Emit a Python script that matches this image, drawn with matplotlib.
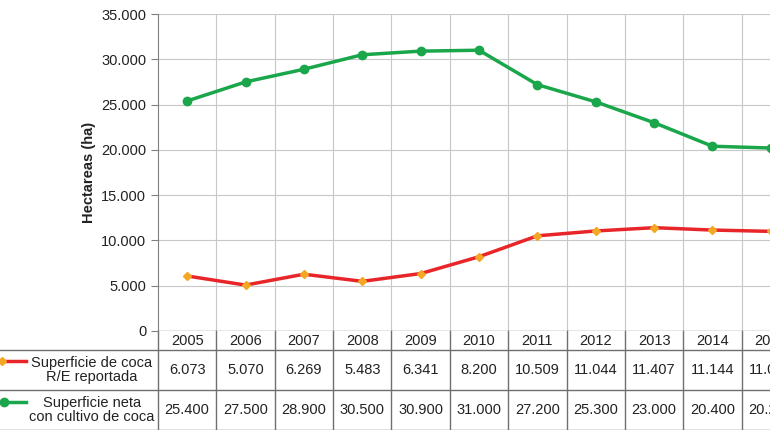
import matplotlib
matplotlib.use("Agg")
import matplotlib.pyplot as plt
from matplotlib.lines import Line2D

plt.rcParams['font.family'] = ['Liberation Sans', 'DejaVu Sans']

years = ["2005","2006","2007","2008","2009","2010","2011","2012","2013","2014","2015"]
coca_re = [6073, 5070, 6269, 5483, 6341, 8200, 10509, 11044, 11407, 11144, 11000]
coca_neta = [25400, 27500, 28900, 30500, 30900, 31000, 27200, 25300, 23000, 20400, 20200]
yticks = [0, 5000, 10000, 15000, 20000, 25000, 30000, 35000]
ytick_labels = ["0", "5.000", "10.000", "15.000", "20.000", "25.000", "30.000", "35.000"]
row_labels = ["Superficie de coca\nR/E reportada", "Superficie neta\ncon cultivo de coca"]

def fmt(v):
    return f"{v:,}".replace(",", ".")

W, H = 770, 430
fs = 10.5
tc = "#222222"
fig = plt.figure(figsize=(W/100, H/100), dpi=100)
left, right, top, bottom = 158, 800, 14, 331
ax = fig.add_axes([left/W, (H-bottom)/H, (right-left)/W, (bottom-top)/H])
x = list(range(len(years)))
ax.plot(x, coca_neta, color="#1aa64a", lw=2.5, marker="o", ms=6, zorder=3)
ax.plot(x, coca_re, color="#e8262a", lw=2.5, marker="D", ms=4.5, mfc="#f5a623", mec="#f5a623", zorder=3)
ax.set_xlim(-0.5, len(years)-0.5)
ax.set_ylim(0, 35000)
ax.set_yticks(yticks)
ax.set_yticklabels(ytick_labels, fontsize=fs, color=tc)
ax.set_xticks([])
ax.set_ylabel("Hectareas (ha)", fontsize=fs, fontweight="bold", color=tc)
for s in ["top", "right", "bottom"]:
    ax.spines[s].set_visible(False)
ax.spines["left"].set_color("#808080")
ax.tick_params(axis="y", color="#808080", length=5)
for yv in yticks[1:]:
    ax.axhline(yv, color="#c8c8c8", lw=0.8, zorder=0)
for i in range(len(years)):
    ax.axvline(i+0.5, color="#c8c8c8", lw=0.8, zorder=0)
ax.axhline(0, color="#808080", lw=1)

ph = bottom - top
def fy(ypx):
    return (bottom - ypx) / ph
tr = ax.get_xaxis_transform()
rows = [331, 350, 390, 430]
lc = "#707070"
for ry in rows[1:]:
    ax.add_line(Line2D([-0.5 - left/(58.36), len(years)-0.5], [fy(ry), fy(ry)], transform=tr, color=lc, lw=1, clip_on=False))
for i in range(len(years)+1):
    ax.add_line(Line2D([i-0.5, i-0.5], [fy(331), fy(430)], transform=tr, color=lc, lw=1, clip_on=False))
for i, yr in enumerate(years):
    ax.text(i, fy(341), yr, transform=tr, ha="center", va="center", fontsize=fs, color=tc, clip_on=False)
    ax.text(i, fy(370), fmt(coca_re[i]), transform=tr, ha="center", va="center", fontsize=fs, color=tc, clip_on=False)
    ax.text(i, fy(410), fmt(coca_neta[i]), transform=tr, ha="center", va="center", fontsize=fs, color=tc, clip_on=False)
fig.text(92/W, (H-370)/H, row_labels[0], ha="center", va="center", fontsize=fs, color=tc, linespacing=1.0)
fig.text(92/W, (H-410)/H, row_labels[1], ha="center", va="center", fontsize=fs, color=tc, linespacing=1.0)
fig.add_artist(Line2D([2/W, 26/W], [(H-361)/H]*2, color="#e8262a", lw=2.5, marker="D", ms=4.5, mfc="#f5a623", mec="#f5a623", markevery=[0]))
fig.add_artist(Line2D([4/W, 26/W], [(H-402)/H]*2, color="#1aa64a", lw=2.5, marker="o", ms=6, markevery=[0]))

fig.savefig("out.png", dpi=100)
